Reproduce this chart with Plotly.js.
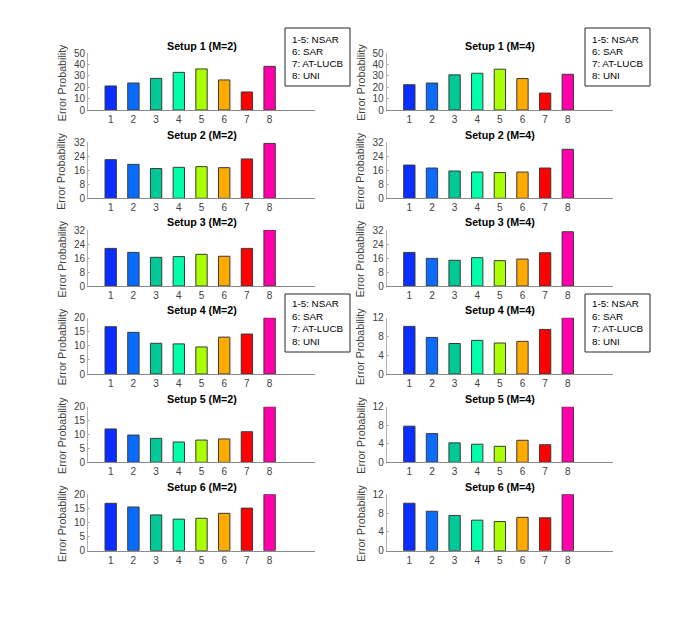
<!DOCTYPE html>
<html><head><meta charset="utf-8">
<script src="https://cdn.plot.ly/plotly-3.0.1.min.js"></script>
<style>html,body{margin:0;padding:0;background:#fff}</style>
</head><body><div id="chart" style="width:678px;height:619px"></div>
<script>
const methods = [1, 2, 3, 4, 5, 6, 7, 8];
const tickLabels = ['1', '2', '3', '4', '5', '6', '7', '8'];
const barColors = ['#0a2eff', '#0a6cff', '#00c896', '#00ffa6', '#aaff00', '#ffaa00', '#ff0000', '#ff00aa'];

const setup1_M2 = [21.2, 23.8, 27.9, 33.2, 36.2, 26.5, 15.9, 38.5];
const setup2_M2 = [22.1, 19.4, 17.0, 17.7, 18.1, 17.5, 22.5, 31.4];
const setup3_M2 = [21.5, 19.2, 16.4, 16.8, 18.1, 17.0, 21.5, 32.0];
const setup4_M2 = [16.8, 14.8, 10.9, 10.7, 9.6, 13.1, 14.2, 20.0];
const setup5_M2 = [12.0, 9.8, 8.6, 7.3, 8.0, 8.4, 11.0, 20.0];
const setup6_M2 = [16.8, 15.5, 12.7, 11.2, 11.5, 13.25, 15.1, 20.0];

const setup1_M4 = [22.3, 23.8, 31.0, 32.4, 36.0, 27.7, 14.9, 31.5];
const setup2_M4 = [19.0, 17.3, 15.6, 15.0, 14.7, 15.0, 17.3, 28.0];
const setup3_M4 = [19.2, 15.8, 14.7, 16.2, 14.5, 15.4, 19.0, 31.0];
const setup4_M4 = [10.15, 7.8, 6.5, 7.17, 6.6, 6.96, 9.5, 12.0];
const setup5_M4 = [7.8, 6.2, 4.2, 3.9, 3.45, 4.75, 3.8, 12.0];
const setup6_M4 = [10.1, 8.4, 7.5, 6.5, 6.2, 7.1, 7.0, 12.0];

const yMaxM2 = [50, 32, 32, 20, 20, 20];
const yStepM2 = [10, 8, 8, 5, 5, 5];
const yMaxM4 = [50, 32, 32, 12, 12, 12];
const yStepM4 = [10, 8, 8, 4, 4, 4];
const titlesM2 = ['Setup 1 (M=2)', 'Setup 2 (M=2)', 'Setup 3 (M=2)', 'Setup 4 (M=2)', 'Setup 5 (M=2)', 'Setup 6 (M=2)'];
const titlesM4 = ['Setup 1 (M=4)', 'Setup 2 (M=4)', 'Setup 3 (M=4)', 'Setup 4 (M=4)', 'Setup 5 (M=4)', 'Setup 6 (M=4)'];
const yTitle = 'Error Probability';
const legendText = ['1-5: NSAR', '6: SAR', '7: AT-LUCB', '8: UNI'];

const dataM2 = [setup1_M2, setup2_M2, setup3_M2, setup4_M2, setup5_M2, setup6_M2];
const dataM4 = [setup1_M4, setup2_M4, setup3_M4, setup4_M4, setup5_M4, setup6_M4];

const W = 678, H = 619;
const px = x => x / W;
const py = y => 1 - y / H;
const colX = [[88, 315], [386.7, 613]];
const rowY = [[53.3, 110], [142.3, 198.3], [230, 286], [317.7, 374], [406.7, 462.3], [494.3, 550.7]];
const FONT = 'Liberation Sans, Arial, Helvetica, sans-serif';

const traces = [];
const layout = {
  width: W, height: H, margin: {l: 0, r: 0, t: 0, b: 0},
  paper_bgcolor: '#fff', plot_bgcolor: '#fff', showlegend: false,
  font: {family: FONT, size: 10, color: '#404040'},
  annotations: [], shapes: []
};

for (let c = 0; c < 2; c++) {
  for (let r = 0; r < 6; r++) {
    const k = c * 6 + r + 1;
    const xa = 'xaxis' + (k === 1 ? '' : k);
    const ya = 'yaxis' + (k === 1 ? '' : k);
    const vals = c === 0 ? dataM2[r] : dataM4[r];
    const yMax = c === 0 ? yMaxM2[r] : yMaxM4[r];
    const yStep = c === 0 ? yStepM2[r] : yStepM4[r];
    traces.push({
      type: 'bar', x: methods, y: vals, width: 0.5,
      xaxis: 'x' + (k === 1 ? '' : k), yaxis: 'y' + (k === 1 ? '' : k),
      marker: {color: barColors, line: {color: '#3a3a3a', width: 1}},
      hoverinfo: 'x+y'
    });
    layout[xa] = {
      domain: [px(colX[c][0]), px(colX[c][1])],
      anchor: 'y' + (k === 1 ? '' : k),
      range: [0, 10], tickmode: 'array', tickvals: methods, ticktext: tickLabels,
      showline: true, linecolor: '#8a8a8a', linewidth: 1,
      ticks: '', showgrid: false, zeroline: false,
      tickfont: {size: 10, color: '#404040'}, fixedrange: true
    };
    layout[ya] = {
      domain: [py(rowY[r][1]), py(rowY[r][0])],
      anchor: 'x' + (k === 1 ? '' : k),
      range: [0, yMax], dtick: yStep, tick0: 0,
      showline: true, linecolor: '#b0b0b0', linewidth: 1,
      ticks: 'inside', ticklen: 2, tickcolor: '#b0b0b0',
      showgrid: false, zeroline: false,
      tickfont: {size: 10, color: '#404040'}, fixedrange: true
    };
    const midX = (colX[c][0] + colX[c][1]) / 2;
    layout.annotations.push({
      xref: 'paper', yref: 'paper', x: px(midX + 0.5), y: py(rowY[r][0] - 7.6),
      xanchor: 'center', yanchor: 'middle', showarrow: false,
      text: '<b>' + (c === 0 ? titlesM2[r] : titlesM4[r]) + '</b>',
      font: {family: FONT, size: 10.7, color: '#000'}
    });
    layout.annotations.push({
      xref: 'paper', yref: 'paper', x: px(colX[c][0] - 26.5), y: py((rowY[r][0] + rowY[r][1]) / 2 + 1),
      xanchor: 'center', yanchor: 'middle', showarrow: false, textangle: -90,
      text: yTitle, font: {family: FONT, size: 10.7, color: '#404040'}
    });
  }
}

// legend boxes
const boxes = [
  {x0: 285, x1: 350, y0: 28, y1: 86, lines: [39, 51.3, 63.6, 75.9]},
  {x0: 585, x1: 650, y0: 28, y1: 86, lines: [39, 51.3, 63.6, 75.9]},
  {x0: 285, x1: 350, y0: 294, y1: 352, lines: [303.8, 316.2, 328.6, 341]},
  {x0: 585, x1: 650, y0: 294, y1: 352, lines: [303.8, 316.2, 328.6, 341]}
];
boxes.forEach(b => {
  layout.shapes.push({type: 'rect', xref: 'paper', yref: 'paper',
    x0: px(b.x0), x1: px(b.x1), y0: py(b.y1), y1: py(b.y0),
    line: {color: '#262626', width: 1}, fillcolor: '#fff'});
  legendText.forEach((t, i) => {
    layout.annotations.push({xref: 'paper', yref: 'paper', x: px(b.x0 + 5), y: py(b.lines[i]),
      xanchor: 'left', yanchor: 'middle', showarrow: false, text: t,
      font: {family: FONT, size: 9.8, color: '#000'}});
  });
});

Plotly.newPlot('chart', traces, layout, {displayModeBar: false, staticPlot: true});
</script></body></html>
